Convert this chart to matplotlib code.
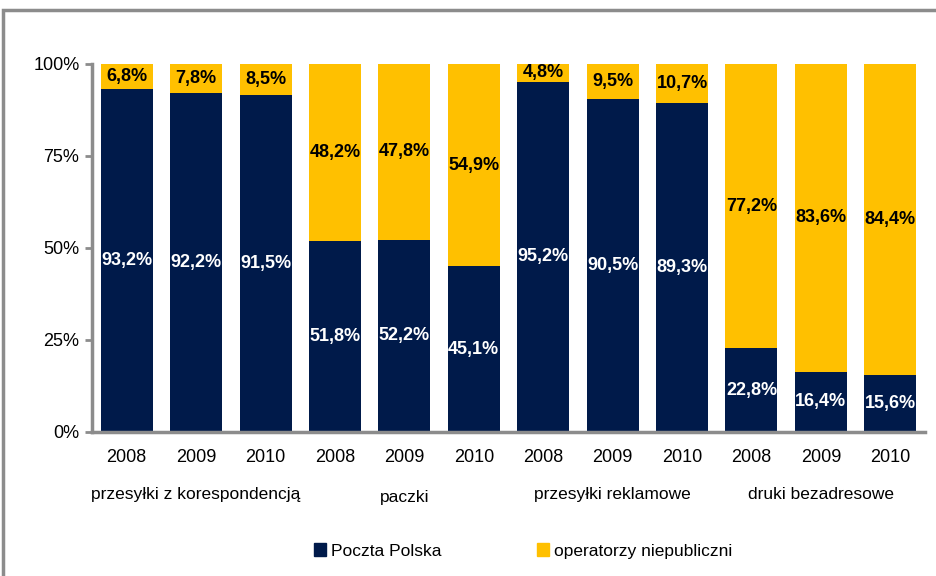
import matplotlib.pyplot as plt
import matplotlib.patches as mpatches
import numpy as np
from matplotlib import font_manager

names = {f.name for f in font_manager.fontManager.ttflist}
narrow = 'Liberation Sans Narrow' if 'Liberation Sans Narrow' in names else 'Liberation Sans'
plt.rcParams['font.family'] = [narrow, 'DejaVu Sans']

groups = ["przesyłki z korespondencją", "paczki", "przesyłki reklamowe", "druki bezadresowe"]
years = ["2008", "2009", "2010"]
poczta = [93.2, 92.2, 91.5, 51.8, 52.2, 45.1, 95.2, 90.5, 89.3, 22.8, 16.4, 15.6]
niepubliczni = [6.8, 7.8, 8.5, 48.2, 47.8, 54.9, 4.8, 9.5, 10.7, 77.2, 83.6, 84.4]

navy = '#001a4a'
gold = '#ffc000'
grey = '#8c8c8c'

fig = plt.figure(figsize=(9.36, 5.76), dpi=100)
ax = fig.add_axes([92 / 936, 1 - 432 / 576, 833 / 936, 368 / 576])

x = np.arange(len(poczta))
ax.bar(x, poczta, width=0.75, color=navy, label='Poczta Polska')
ax.bar(x, niepubliczni, width=0.75, bottom=poczta, color=gold, label='operatorzy niepubliczni')

fmt = lambda v: f"{v:.1f}%".replace('.', ',')
for i in x:
    ax.text(i, poczta[i] / 2, fmt(poczta[i]), ha='center', va='center',
            color='white', fontsize=13, fontweight='bold')
    ax.text(i, poczta[i] + niepubliczni[i] / 2, fmt(niepubliczni[i]), ha='center', va='center',
            color='black', fontsize=13, fontweight='bold')

ax.set_xlim(-0.5, len(poczta) - 0.5)
ax.set_ylim(0, 100)
ax.set_yticks([0, 25, 50, 75, 100])
ax.set_yticklabels(['0%', '25%', '50%', '75%', '100%'], fontsize=13)
ax.set_xticks(x)
ax.set_xticklabels(years * len(groups), fontsize=13)
ax.tick_params(axis='x', length=0, pad=12)
ax.tick_params(axis='y', length=5, width=2, color=grey, pad=4)

for s in ['top', 'right']:
    ax.spines[s].set_visible(False)
for s in ['left', 'bottom']:
    ax.spines[s].set_color(grey)
    ax.spines[s].set_linewidth(2.5)

# group labels under the years
for g, name in enumerate(groups):
    yoff = -0.17 if name != "paczki" else -0.178
    ax.text(g * 3 + 1, yoff, name, transform=ax.get_xaxis_transform(),
            ha='center', va='center', fontsize=12.5)

handles = [mpatches.Patch(color=navy, label='Poczta Polska'),
           mpatches.Patch(color=gold, label='operatorzy niepubliczni')]
fig.legend(handles=handles, loc='center', bbox_to_anchor=(523 / 936, 1 - 551 / 576),
           ncol=2, frameon=False, fontsize=12.5, handlelength=0.7, handleheight=0.7,
           handletextpad=0.3, columnspacing=5.5)

# outer frame of the chart area (cut off by the image edge)
fig.patches.append(mpatches.Rectangle((3 / 936, -0.1), 1.2, 1 - 10 / 576 + 0.1,
                                      transform=fig.transFigure, fill=False,
                                      edgecolor=grey, linewidth=2.5))

fig.savefig('out.png', dpi=100)
